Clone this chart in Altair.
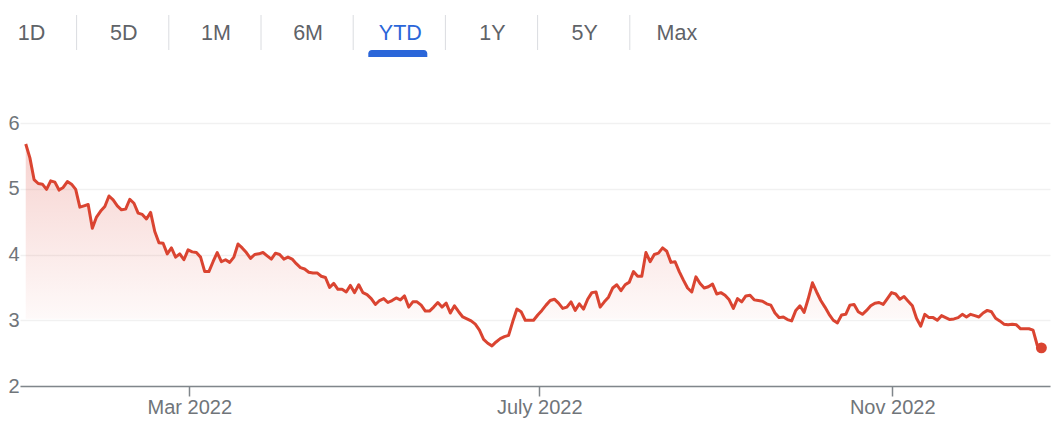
import altair as alt
import pandas as pd

# ---- data ----
prices = [
    5.68, 5.47, 5.14, 5.08, 5.07, 4.99, 5.12, 5.10, 4.98, 5.02, 5.11, 5.07, 4.99, 4.72, 4.74, 4.76,
    4.40, 4.57, 4.66, 4.73, 4.89, 4.83, 4.74, 4.68, 4.69, 4.84, 4.78, 4.63, 4.61, 4.54, 4.64, 4.35,
    4.18, 4.17, 4.01, 4.10, 3.96, 4.01, 3.92, 4.07, 4.04, 4.03,
    3.96, 3.74, 3.74, 3.89, 4.03, 3.89, 3.92, 3.88, 3.96, 4.16, 4.10, 4.03, 3.94, 4.00, 4.01, 4.03,
    3.98, 3.93, 4.02, 4.00, 3.93, 3.96, 3.93, 3.86, 3.80, 3.78, 3.73, 3.72, 3.72, 3.67, 3.65, 3.50,
    3.56, 3.47, 3.47, 3.43, 3.53, 3.42, 3.54,
    3.42, 3.39, 3.33, 3.24, 3.30, 3.33, 3.27, 3.30, 3.34, 3.31, 3.37, 3.20, 3.28, 3.28, 3.23, 3.14,
    3.14, 3.20, 3.27, 3.20, 3.26, 3.11, 3.22, 3.13, 3.05, 3.02, 2.99, 2.94, 2.85, 2.71, 2.65, 2.61,
    2.67, 2.72, 2.75, 2.77, 2.98, 3.17, 3.13, 3.00, 3.00, 3.00,
    3.08, 3.15, 3.23, 3.30, 3.32, 3.26, 3.18, 3.20, 3.28, 3.15, 3.25, 3.17, 3.32, 3.42, 3.43, 3.20,
    3.28, 3.35, 3.49, 3.54, 3.45, 3.54, 3.58, 3.74, 3.67, 3.67, 4.03, 3.89, 4.00, 4.02, 4.10, 4.05,
    3.88, 3.89, 3.74, 3.61, 3.49, 3.43, 3.66, 3.56, 3.49, 3.51,
    3.55, 3.40, 3.42, 3.38, 3.31, 3.18, 3.33, 3.28, 3.37, 3.38, 3.31, 3.30, 3.29, 3.25, 3.23, 3.11,
    3.04, 3.05, 3.01, 2.99, 3.15, 3.22, 3.12, 3.33, 3.57, 3.43, 3.30, 3.20, 3.09, 3.00, 2.96, 3.08,
    3.09, 3.23, 3.24, 3.13, 3.09, 3.15, 3.22, 3.26, 3.27,
    3.24, 3.33, 3.42, 3.40, 3.32, 3.36, 3.29, 3.22, 3.03, 2.91, 3.09, 3.04, 3.04, 3.00, 3.07, 3.04,
    3.01, 3.02, 3.04, 3.09, 3.05, 3.09, 3.07, 3.05, 3.11, 3.15, 3.13, 3.03, 2.99, 2.94, 2.93, 2.94,
    2.93, 2.87, 2.87, 2.87, 2.85, 2.62, 2.58,
]
first_date = "2022-01-03"
last_date = "2022-12-23"
tabs = ["1D", "5D", "1M", "6M", "YTD", "1Y", "5Y", "Max"]
selected_tab = "YTD"
y_ticks = [2, 3, 4, 5, 6]
x_tick_dates = [(2022, 3, 1), (2022, 7, 1), (2022, 11, 1)]
x_domain = [(2022, 1, 1), (2022, 12, 26)]
y_domain = [2, 6]

# ---- styling ----
RED = "#da4431"
BLUE = "#2b66d9"
TAB_GRAY = "#5f6368"
LABEL_GRAY = "#70757a"
AXIS_GRAY = "#80868b"
FONT = "Liberation Sans"
W, H = 1030, 263

dates = pd.date_range(first_date, last_date, periods=len(prices))
df = pd.DataFrame({"date": dates, "price": prices})
last_df = df.tail(1)
tabs_df = pd.DataFrame({"tab": tabs, "i": list(range(len(tabs)))})

def dt(t):
    return alt.DateTime(year=t[0], month=t[1], date=t[2])

x_scale = alt.Scale(domain=[dt(d) for d in x_domain])
y_scale = alt.Scale(domain=y_domain, nice=False, zero=False)

x_axis = alt.Axis(
    values=[dt(d) for d in x_tick_dates],
    labelExpr="timeFormat(datum.value, '%b') == 'Jul' ? 'July ' + timeFormat(datum.value, '%Y') : timeFormat(datum.value, '%b %Y')",
    grid=False, domainColor=AXIS_GRAY, domainWidth=1.5, tickColor=AXIS_GRAY,
    tickSize=10, tickWidth=1.5, labelColor=LABEL_GRAY, labelFontSize=20,
    labelFont=FONT, labelPadding=1, title=None, labelFlush=False,
)
y_axis = alt.Axis(
    values=y_ticks, format="d", grid=True, gridColor="#f1f1f1", gridWidth=1.5, domain=False,
    ticks=False, labelColor=LABEL_GRAY, labelFontSize=20, labelFont=FONT,
    labelPadding=1, title=None,
)

gradient = alt.Gradient(
    gradient="linear", x1=1, x2=1, y1=0, y2=1,
    stops=[
        alt.GradientStop(color="rgba(219,68,55,0.24)", offset=0),
        alt.GradientStop(color="rgba(219,68,55,0.03)", offset=0.72),
        alt.GradientStop(color="rgba(219,68,55,0)", offset=0.725),
        alt.GradientStop(color="rgba(219,68,55,0)", offset=1),
    ],
)

base = alt.Chart(df).encode(
    x=alt.X("date:T", scale=x_scale, axis=x_axis),
    y=alt.Y("price:Q", scale=y_scale, axis=y_axis),
)
area = base.mark_area(color=gradient).encode(y2=alt.datum(2))
line = base.mark_line(color=RED, strokeWidth=3, strokeJoin="round")
dot = alt.Chart(last_df).mark_circle(size=120, color=RED, opacity=1).encode(
    x=alt.X("date:T", scale=x_scale), y=alt.Y("price:Q", scale=y_scale)
)

tab_text = alt.Chart(tabs_df).transform_calculate(
    px="11.5 + datum.i * 92.2"
).mark_text(fontSize=21.5, font=FONT, baseline="middle", align="center").encode(
    x=alt.X("px:Q", scale=None),
    y=alt.value(-89.5),
    text="tab:N",
    color=alt.condition(alt.datum.tab == selected_tab, alt.value(BLUE), alt.value(TAB_GRAY)),
)
tab_sep = alt.Chart(tabs_df).transform_filter(
    alt.datum.i < len(tabs) - 1
).transform_calculate(px="56.6 + datum.i * 92.2").mark_rule(
    color="#dadce0", strokeWidth=1
).encode(x=alt.X("px:Q", scale=None), y=alt.value(-108), y2=alt.value(-73))
tab_bar = alt.Chart(tabs_df).transform_filter(
    alt.datum.tab == selected_tab
).transform_calculate(
    xa="10.5 + datum.i * 92.2 - 31", xb="10.5 + datum.i * 92.2 + 28"
).mark_rect(color=BLUE, cornerRadiusTopLeft=4, cornerRadiusTopRight=4).encode(
    x=alt.X("xa:Q", scale=None), x2="xb:Q", y=alt.value(-73), y2=alt.value(-66)
)

chart = alt.layer(area, line, dot, tab_sep, tab_text, tab_bar).properties(
    width=W, height=H,
    autosize=alt.AutoSizeParams(type="none"),
    padding={"left": 12, "top": 115, "right": 2, "bottom": 40},
).configure_view(strokeWidth=0)

chart.save("out.html", embed_options={"renderer": "svg", "actions": False})
